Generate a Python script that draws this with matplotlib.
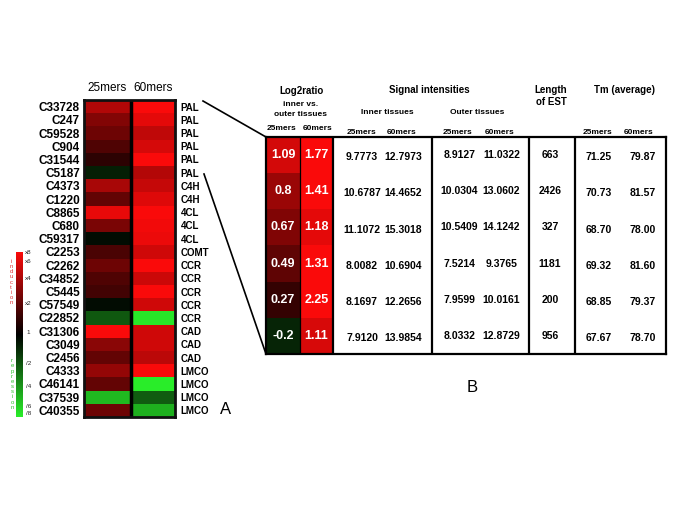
import numpy as np
import matplotlib
matplotlib.use("Agg")
import matplotlib.pyplot as plt
from matplotlib.colors import LinearSegmentedColormap, Normalize
from matplotlib.lines import Line2D
from matplotlib.transforms import blended_transform_factory

plt.rcParams['font.family'] = ['Liberation Sans', 'DejaVu Sans']

# ---------------- data ----------------
genes = ["C33728", "C247", "C59528", "C904", "C31544", "C5187", "C4373", "C1220",
         "C8865", "C680", "C59317", "C2253", "C2262", "C34852", "C5445", "C57549",
         "C22852", "C31306", "C3049", "C2456", "C4333", "C46141", "C37539", "C40355"]
enzymes = ["PAL", "PAL", "PAL", "PAL", "PAL", "PAL", "C4H", "C4H", "4CL", "4CL", "4CL",
           "COMT", "CCR", "CCR", "CCR", "CCR", "CCR", "CAD", "CAD", "CAD",
           "LMCO", "LMCO", "LMCO", "LMCO"]
heat_cols = ["25mers", "60mers"]
ratio_25 = [1.09, 0.8, 0.67, 0.49, 0.27, -0.2, 1.03, 0.61, 1.43, 0.76, -0.08, 0.46,
            0.67, 0.49, 0.40, -0.08, -0.57, 1.60, 0.85, 0.61, 0.91, 0.61, -1.21, 0.67]
ratio_60 = [1.77, 1.41, 1.18, 1.31, 2.25, 1.11, 1.22, 1.37, 1.60, 1.50, 1.46, 1.28,
            1.60, 1.25, 1.60, 1.28, -1.50, 1.28, 1.28, 1.16, 1.60, -1.55, -0.60, -1.15]

cbar_labels = ["x8", "x6", "x4", "x2", "1", "/2", "/4", "/6", "/8"]
cbar_pos = [1.0, 0.89, 0.68, 0.38, 0.03, -0.35, -0.63, -0.87, -0.96]

tbl_log25 = [1.09, 0.8, 0.67, 0.49, 0.27, -0.2]
tbl_log60 = [1.77, 1.41, 1.18, 1.31, 2.25, 1.11]
inner_25 = [9.7773, 10.6787, 11.1072, 8.0082, 8.1697, 7.9120]
inner_60 = [12.7973, 14.4652, 15.3018, 10.6904, 12.2656, 13.9854]
outer_25 = [8.9127, 10.0304, 10.5409, 7.5214, 7.9599, 8.0332]
outer_60 = [11.0322, 13.0602, 14.1242, 9.3765, 10.0161, 12.8729]
est_len = [663, 2426, 327, 1181, 200, 956]
tm_25 = [71.25, 70.73, 68.70, 69.32, 68.85, 67.67]
tm_60 = [79.87, 81.57, 78.00, 81.60, 79.37, 78.70]

# ---------------- layout helpers ----------------
W, H = 685, 513
fig = plt.figure(figsize=(W / 100, H / 100), dpi=100)
fig.patch.set_facecolor("white")


def ax_px(x0, y0, x1, y1):
    return fig.add_axes([x0 / W, 1 - y1 / H, (x1 - x0) / W, (y1 - y0) / H])


def ftxt(x, y, s, **kw):
    kw.setdefault("ha", "center")
    kw.setdefault("va", "center")
    fig.text(x / W, 1 - y / H, s, **kw)


def fline(x0, y0, x1, y1, lw=1.2):
    fig.add_artist(Line2D([x0 / W, x1 / W], [1 - y0 / H, 1 - y1 / H],
                          transform=fig.transFigure, color="black", lw=lw))


cmap = LinearSegmentedColormap.from_list(
    "gkr", [(0.0, (0.16, 0.93, 0.16)), (0.5, (0, 0, 0)), (1.0, (0.98, 0.04, 0.04))])

# ---------------- heatmap A ----------------
axh = ax_px(84, 100, 175, 417)
n = len(genes)
hm = np.column_stack([ratio_25, ratio_60])
col_w = [47, 44]
xe = np.concatenate([[0], np.cumsum(col_w)])
axh.pcolormesh(xe, np.arange(n + 1), hm, cmap=cmap, norm=Normalize(-1.55, 1.55))
axh.set_xlim(xe[0], xe[-1])
axh.set_ylim(n, 0)
axh.axvline(xe[1], color="black", lw=2.5)
for sp in axh.spines.values():
    sp.set_linewidth(2.0)
    sp.set_color("#111111")
axh.set_xticks([])
axh.set_yticks(np.arange(n) + 0.5)
axh.set_yticklabels(genes, fontsize=8.5, fontweight="bold")
axh.tick_params(axis="y", length=0, pad=3)
axr = axh.twinx()
axr.set_ylim(n, 0)
axr.set_yticks(np.arange(n) + 0.5)
axr.set_yticklabels(enzymes, fontsize=7, fontweight="bold")
axr.tick_params(axis="y", length=0, pad=4)
axr.set_xticks([])
for sp in axr.spines.values():
    sp.set_visible(False)
for i, c in enumerate(heat_cols):
    axh.text((xe[i] + xe[i + 1]) / 2, -0.9, c, ha="center", va="center", fontsize=8.5)

ftxt(226, 409, "A", fontsize=12)

# ---------------- colour legend ----------------
axc = ax_px(16, 252, 23, 417)
axc.imshow(np.linspace(1, -1, 256)[:, None], cmap=cmap, aspect="auto",
           extent=[0, 1, -1, 1], vmin=-1, vmax=1)
axc.set_ylim(-1, 1)
axc.axis("off")
tr = blended_transform_factory(axc.transAxes, axc.transData)
for lab, p in zip(cbar_labels, cbar_pos):
    axc.text(1.75, p, lab, transform=tr, ha="center", va="center", fontsize=4.5,
             color="#222222")
ftxt(11, 282, "\n".join("induction"), fontsize=4.3, color="#e03030", linespacing=1.05)
ftxt(12, 384, "\n".join("repression"), fontsize=4.3, color="#30c030", linespacing=1.05)

# ---------------- table B ----------------
axt = ax_px(266, 137, 666, 354)
nr = len(tbl_log25)
axt.set_xlim(0, 400)
axt.set_ylim(nr, 0)
log_edges = [0, 34, 67]
axt.pcolormesh(log_edges, np.arange(nr + 1), np.column_stack([tbl_log25, tbl_log60]),
               cmap=cmap, norm=Normalize(-1.3, 1.3))
axt.axvline(34, color="black", lw=0.9)
for xv in [67, 166, 263, 309]:
    axt.axvline(xv, color="black", lw=1.6)
for sp in axt.spines.values():
    sp.set_linewidth(1.6)
axt.set_xticks([])
axt.set_yticks([])

vfont = dict(fontsize=7.5, fontweight="bold", ha="center", va="center")
for r in range(nr):
    y = r + 0.5
    axt.text(17, y, f"{tbl_log25[r]:g}", color="white", fontsize=9, fontweight="bold",
             ha="center", va="center")
    axt.text(50.5, y, f"{tbl_log60[r]:g}", color="white", fontsize=9, fontweight="bold",
             ha="center", va="center")
    axt.text(96, y + 0.06, f"{inner_25[r]:.4f}", **vfont)
    axt.text(137, y + 0.06, f"{inner_60[r]:.4f}", **vfont)
    axt.text(193.5, y, f"{outer_25[r]:.4f}", **vfont)
    axt.text(235.5, y, f"{outer_60[r]:.4f}", **vfont)
    axt.text(284, y, f"{est_len[r]}", **vfont)
    axt.text(332.5, y + 0.06, f"{tm_25[r]:.2f}", **vfont)
    axt.text(376.5, y + 0.06, f"{tm_60[r]:.2f}", **vfont)

hb = dict(fontweight="bold")
ftxt(301, 91, "Log2ratio", fontsize=7, **hb)
ftxt(301, 104, "inner vs.", fontsize=6, **hb)
ftxt(301, 115, "outer tissues", fontsize=6, **hb)
ftxt(282, 128, "25mers", fontsize=6, **hb)
ftxt(318, 128, "60mers", fontsize=6, **hb)
ftxt(429, 90, "Signal intensities", fontsize=7, **hb)
ftxt(387, 112, "Inner tissues", fontsize=6, **hb)
ftxt(477, 112, "Outer tissues", fontsize=6, **hb)
for x, s in [(362, "25mers"), (402, "60mers"), (458, "25mers"), (500, "60mers"),
             (598, "25mers"), (639, "60mers")]:
    ftxt(x, 132, s, fontsize=6, **hb)
ftxt(551, 90, "Length", fontsize=7, **hb)
ftxt(551, 102, "of EST", fontsize=7, **hb)
ftxt(624, 90, "Tm (average)", fontsize=7, **hb)

ftxt(472, 388, "B", fontsize=12)

# connector lines
fline(203, 101, 266, 137)
fline(204, 174, 266, 354)

fig.savefig("out.png", dpi=100, facecolor="white")
